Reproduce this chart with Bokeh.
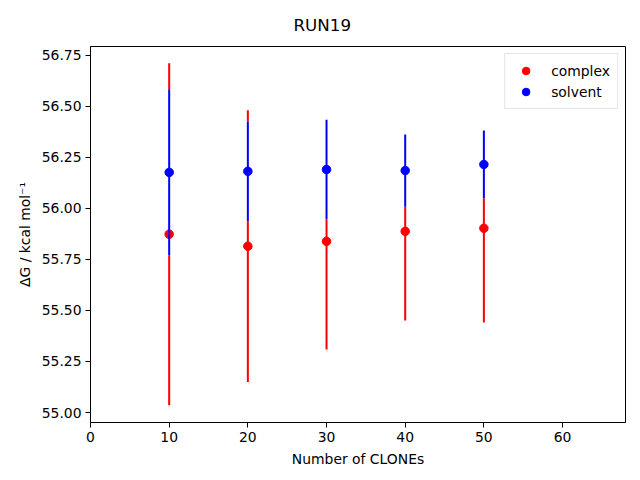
from bokeh.plotting import figure
from bokeh.models import ColumnDataSource, FixedTicker, NumeralTickFormatter, Range1d, Legend, LegendItem
from bokeh.embed import file_html
from bokeh.resources import INLINE

clones = [10, 20, 30, 40, 50]
complex_dg = [55.874, 55.815, 55.839, 55.888, 55.903]
complex_err = [0.838, 0.666, 0.530, 0.437, 0.462]
solvent_dg = [56.177, 56.182, 56.191, 56.186, 56.216]
solvent_err = [0.408, 0.244, 0.244, 0.177, 0.166]
x_ticks = [0, 10, 20, 30, 40, 50, 60]
y_ticks = [55.0, 55.25, 55.5, 55.75, 56.0, 56.25, 56.5, 56.75]

FONT = "DejaVu Sans"

c_lo = [d - e for d, e in zip(complex_dg, complex_err)]
c_hi = [d + e for d, e in zip(complex_dg, complex_err)]
s_lo = [d - e for d, e in zip(solvent_dg, solvent_err)]
s_hi = [d + e for d, e in zip(solvent_dg, solvent_err)]

# visible (not covered by the solvent bar drawn on top) parts of the complex bars
cx, cy0, cy1 = [], [], []
for x, lo, hi, slo, shi in zip(clones, c_lo, c_hi, s_lo, s_hi):
    if hi <= slo or lo >= shi:
        cx.append(x); cy0.append(lo); cy1.append(hi)
        continue
    if lo < slo:
        cx.append(x); cy0.append(lo); cy1.append(slo)
    if hi > shi:
        cx.append(x); cy0.append(shi); cy1.append(hi)

cpts = ColumnDataSource(dict(x=clones, y=complex_dg))
spts = ColumnDataSource(dict(x=clones, y=solvent_dg))
cbar = ColumnDataSource(dict(x=cx, y0=cy0, y1=cy1))
sbar = ColumnDataSource(dict(x=clones, y0=s_lo, y1=s_hi))

p = figure(width=640, height=480, output_backend="svg", toolbar_location=None,
           x_range=Range1d(0, 68.0), y_range=Range1d(54.951, 56.794),
           min_border_left=90, min_border_right=15, min_border_top=45, min_border_bottom=58)
p.background_fill_color = "white"
p.border_fill_color = "white"
p.outline_line_color = "black"
p.outline_line_width = 1
p.xgrid.visible = False
p.ygrid.visible = False

r_c = p.scatter("x", "y", source=cpts, size=8.5, color="red")
r_s = p.scatter("x", "y", source=spts, size=8.5, color="blue")
p.segment(x0="x", y0="y0", x1="x", y1="y1", source=cbar, line_color="red", line_width=2)
p.segment(x0="x", y0="y0", x1="x", y1="y1", source=sbar, line_color="blue", line_width=2)

p.title.text = "RUN19"
p.title.align = "left"
p.title.offset = 203
p.title.standoff = 24
p.title.text_font = FONT
p.title.text_font_size = "16.7px"
p.title.text_font_style = "normal"
p.title.text_color = "black"

for ax in (p.xaxis[0], p.yaxis[0]):
    ax.major_label_text_font = FONT
    ax.major_label_text_font_size = "13.9px"
    ax.major_label_text_color = "black"
    ax.axis_label_text_font = FONT
    ax.axis_label_text_font_size = "13.9px"
    ax.axis_label_text_font_style = "normal"
    ax.axis_label_text_color = "black"
    ax.major_tick_out = 5
    ax.major_tick_in = 0
    ax.minor_tick_out = 0
    ax.minor_tick_in = 0
    ax.major_label_standoff = 4
    ax.axis_label_standoff = 6
    ax.axis_line_color = "black"

p.xaxis.ticker = FixedTicker(ticks=x_ticks)
p.yaxis.ticker = FixedTicker(ticks=y_ticks)
p.yaxis.formatter = NumeralTickFormatter(format="0.00")
p.xaxis.axis_label = "Number of CLONEs"
p.yaxis.axis_label = "ΔG / kcal mol⁻¹"

legend = Legend(items=[LegendItem(label="complex", renderers=[r_c]),
                       LegendItem(label="solvent", renderers=[r_s])],
                location="top_right")
legend.label_text_font = FONT
legend.label_text_font_size = "13.9px"
legend.label_text_color = "black"
legend.border_line_color = "#cccccc"
legend.background_fill_alpha = 0.8
legend.padding = 7
legend.spacing = 2
legend.margin = 7
legend.glyph_width = 27
legend.glyph_height = 19
legend.label_standoff = 12
p.add_layout(legend)

open("out.html", "w").write(file_html(p, INLINE))
